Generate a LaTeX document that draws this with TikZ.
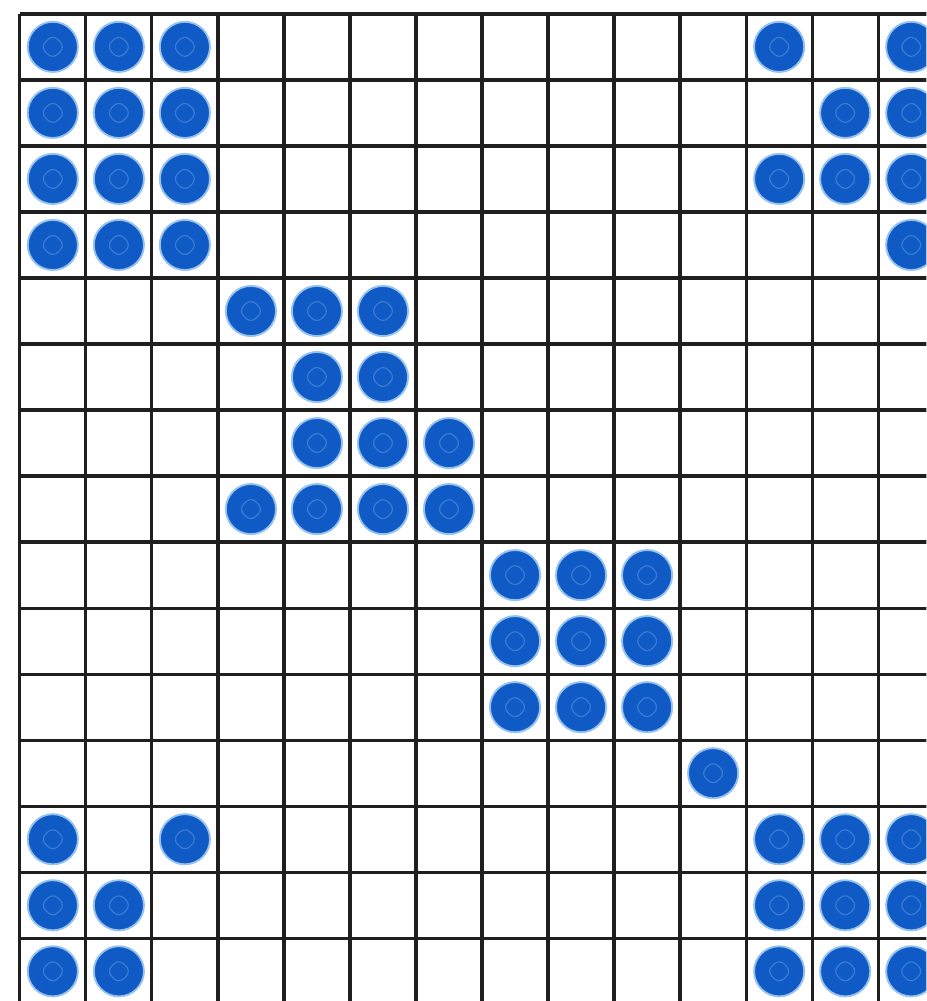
\documentclass[tikz,border=0pt]{standalone}
\usepackage{tikz}
\usetikzlibrary{shapes.geometric}
\definecolor{dotblue}{RGB}{16,90,198}
\definecolor{dotring}{RGB}{58,125,212}
\definecolor{dothalo}{RGB}{150,195,238}

\begin{document}
\begin{tikzpicture}[
  gridline/.style={line width=1.4pt, draw=black!88},
  stone/.style={circle, fill=dotblue, draw=dothalo, line width=0.8pt, minimum size=0.76cm, inner sep=0pt},
  ring/.style={diamond, draw=dotring, line width=0.5pt, minimum size=0.38cm, inner sep=0pt, rounded corners=3pt}
]
\useasboundingbox (-0.30,0.21) rectangle (13.73,-14.95);
\clip (-0.30,0.21) rectangle (13.73,-14.95);
\fill[white] (-0.30,0.21) rectangle (13.73,-14.95);
\draw[gridline] (0,0) grid (14,-15); %board
% stones, row/columns
\foreach \r/\cols in {0/{0,1,2,11,13}, 1/{0,1,2,12,13}, 2/{0,1,2,11,12,13}, 3/{0,1,2,13},
                      4/{3,4,5}, 5/{4,5}, 6/{4,5,6}, 7/{3,4,5,6},
                      8/{7,8,9}, 9/{7,8,9}, 10/{7,8,9}, 11/{10},
                      12/{0,2,11,12,13}, 13/{0,1,11,12,13}, 14/{0,1,11,12,13}}
  \foreach \c in \cols {
    \node[stone] (s-\r-\c) at (\c+0.5,-\r-0.5) {};
    \node[ring] (r-\r-\c) at (s-\r-\c.center) {};
  }
\end{tikzpicture}
\end{document}
